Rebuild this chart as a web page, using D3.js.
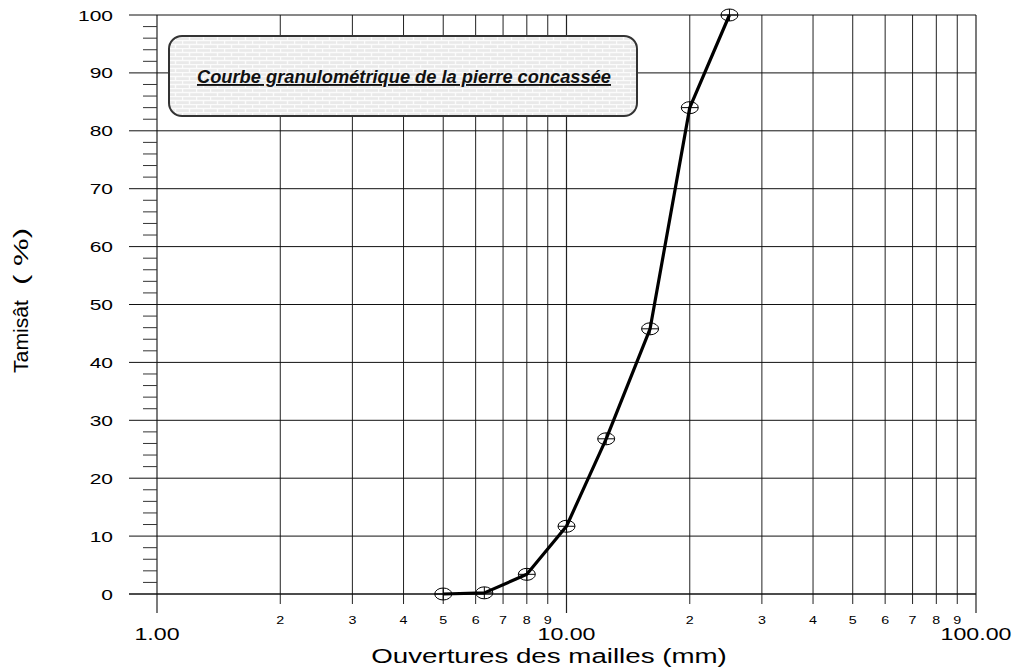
<!DOCTYPE html>
<html>
<head>
<meta charset="utf-8">
<script src="https://cdn.jsdelivr.net/npm/d3@7"></script>
<style>
  body { margin: 0; background: #fff; }
  svg { display: block; font-family: "Liberation Sans", Arial, sans-serif; }
</style>
</head>
<body>
<div id="chart"></div>
<script>
const WIDTH = 1019;
const HEIGHT = 671;
const MARGINS = {left: 157, right: 43, top: 15, bottom: 77};

// sieve openings (mm) and % passing
const sieves = [5, 6.3, 8, 10, 12.5, 16, 20, 25];
const passing = [0, 0.2, 3.4, 11.7, 26.8, 45.8, 84, 100];

const yTicks = [0, 10, 20, 30, 40, 50, 60, 70, 80, 90, 100];
const xMajor = [1, 10, 100];
const xMajorLabels = ["1.00", "10.00", "100.00"];
const xMinorDigits = [2, 3, 4, 5, 6, 7, 8, 9];

const title = "Courbe granulométrique de la pierre concassée";
const xTitle = "Ouvertures des mailles (mm)";

// the original text looks stretched sideways
const STRETCH = 1.4;

const VIS_WIDTH = WIDTH - MARGINS.left - MARGINS.right;
const VIS_HEIGHT = HEIGHT - MARGINS.top - MARGINS.bottom;

const svg = d3.select("#chart").append("svg")
    .attr("width", WIDTH)
    .attr("height", HEIGHT);

const X = d3.scaleLog().domain([1, 100]).range([MARGINS.left, MARGINS.left + VIS_WIDTH]);
const Y = d3.scaleLinear().domain([0, 100]).range([MARGINS.top + VIS_HEIGHT, MARGINS.top]);

const tr = (x, y, sx) => "translate(" + x + "," + y + ") scale(" + sx + ",1)";

// brick pattern for the title box
const defs = svg.append("defs");
const pat = defs.append("pattern")
    .attr("id", "brick")
    .attr("patternUnits", "userSpaceOnUse")
    .attr("width", 14).attr("height", 8);
pat.append("rect").attr("width", 14).attr("height", 8).attr("fill", "#e9e9e9");
pat.append("path")
    .attr("d", "M0,0.5H14M0,4.5H14M0.5,0V4M7.5,4V8")
    .attr("stroke", "#fbfbfb").attr("stroke-width", 1.4).attr("fill", "none");

// minor x values for every decade
const minorX = [];
[1, 10].forEach(dec => xMinorDigits.forEach(m => minorX.push({v: dec * m, d: m})));

// vertical grid lines
svg.append("g").selectAll("line.vmin")
    .data(minorX).enter().append("line")
    .attr("x1", d => X(d.v)).attr("x2", d => X(d.v))
    .attr("y1", Y(100)).attr("y2", Y(0) + 10)
    .attr("stroke", "#222").attr("stroke-width", 1);

svg.append("g").selectAll("line.vmaj")
    .data(xMajor).enter().append("line")
    .attr("x1", d => X(d)).attr("x2", d => X(d))
    .attr("y1", Y(100)).attr("y2", Y(0) + 19)
    .attr("stroke", "#222").attr("stroke-width", 1.2);

// horizontal grid lines
svg.append("g").selectAll("line.h")
    .data(yTicks).enter().append("line")
    .attr("x1", X(1) - 28).attr("x2", X(100))
    .attr("y1", d => Y(d)).attr("y2", d => Y(d))
    .attr("stroke", "#111").attr("stroke-width", d => d === 0 ? 1.5 : 1);

// small y ticks every 2 %
const yMinor = d3.range(0, 100, 2).filter(v => v % 10 !== 0);
svg.append("g").selectAll("line.ym")
    .data(yMinor).enter().append("line")
    .attr("x1", X(1) - 14).attr("x2", X(1))
    .attr("y1", d => Y(d)).attr("y2", d => Y(d))
    .attr("stroke", "#333").attr("stroke-width", 1);

// y tick labels
svg.append("g").selectAll("text.yl")
    .data(yTicks).enter().append("text")
    .attr("transform", d => tr(X(1) - 44, Y(d) + 5.5, STRETCH))
    .attr("text-anchor", "end")
    .attr("font-size", 15)
    .text(d => d);

// x labels
svg.append("g").selectAll("text.xmin")
    .data(minorX).enter().append("text")
    .attr("transform", d => tr(X(d.v), Y(0) + 30, 1.3))
    .attr("text-anchor", "middle")
    .attr("font-size", 11)
    .text(d => d.d);

svg.append("g").selectAll("text.xmaj")
    .data(xMajor).enter().append("text")
    .attr("transform", d => tr(X(d), Y(0) + 46, 1.45))
    .attr("text-anchor", "middle")
    .attr("font-size", 16)
    .text((d, i) => xMajorLabels[i]);

// axis titles
svg.append("text")
    .attr("transform", tr(549, 663, 1.32))
    .attr("text-anchor", "middle")
    .attr("font-size", 21)
    .text(xTitle);

const yt = svg.append("g").attr("transform", "translate(28,0) rotate(-90)");
yt.append("text")
    .attr("x", -373).attr("y", 0)
    .attr("font-size", 20)
    .attr("textLength", 73).attr("lengthAdjust", "spacingAndGlyphs")
    .text("Tamisât");
yt.append("text")
    .attr("x", -285).attr("y", 0)
    .attr("font-size", 20)
    .attr("textLength", 57).attr("lengthAdjust", "spacingAndGlyphs")
    .text("( %)");

// title box
svg.append("rect")
    .attr("x", 169).attr("y", 36)
    .attr("width", 468).attr("height", 80)
    .attr("rx", 13).attr("ry", 13)
    .attr("fill", "url(#brick)")
    .attr("stroke", "#333").attr("stroke-width", 2);

svg.append("text")
    .attr("x", 197).attr("y", 83)
    .attr("font-size", 19)
    .attr("font-weight", "bold")
    .attr("font-style", "italic")
    .attr("text-decoration", "underline")
    .attr("textLength", 414).attr("lengthAdjust", "spacingAndGlyphs")
    .attr("fill", "#111")
    .text(title);

// curve
const data = sieves.map((s, i) => ({x: s, y: passing[i]}));
svg.append("path")
    .datum(data)
    .attr("fill", "none")
    .attr("stroke", "#000")
    .attr("stroke-width", 3.2)
    .attr("stroke-linejoin", "round")
    .attr("d", d3.line().x(d => X(d.x)).y(d => Y(d.y)));

// markers: circle with cross
const mk = svg.append("g").selectAll("g.mk")
    .data(data).enter().append("g")
    .attr("transform", d => "translate(" + X(d.x) + "," + Y(d.y) + ")");
mk.append("ellipse")
    .attr("rx", 8.5).attr("ry", 6)
    .attr("fill", "none").attr("stroke", "#000").attr("stroke-width", 1);
mk.append("path")
    .attr("d", "M-8.5,0H8.5M0,-6V6")
    .attr("stroke", "#000").attr("stroke-width", 1);
</script>
</body>
</html>
